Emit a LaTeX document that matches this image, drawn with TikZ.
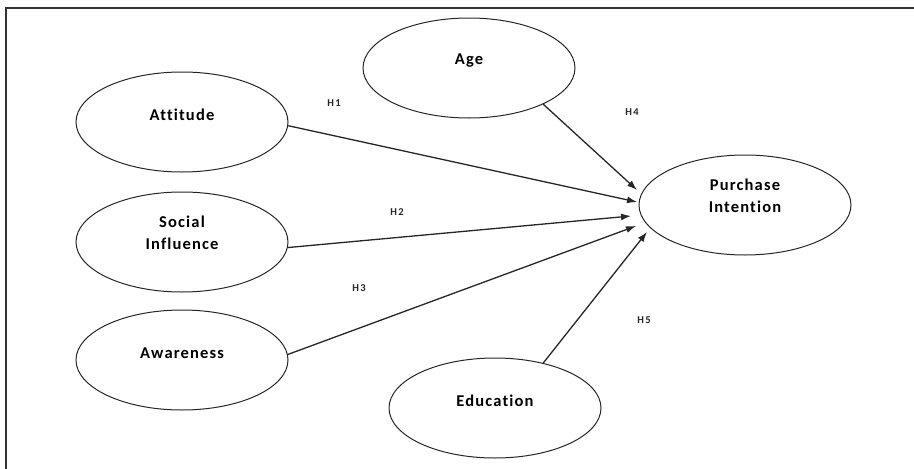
\documentclass[tikz,border=0pt]{standalone}
\usepackage{fontspec}
\setmainfont{Carlito}[Ligatures=NoCommon]
\usetikzlibrary{arrows.meta,calc,shapes.geometric}
\begin{document}
\begin{tikzpicture}[x=1pt,y=-1pt,
  var/.style={draw=black!85,line width=1pt,ellipse,minimum width=212pt,minimum height=100pt,inner sep=0pt},
  vlab/.style={font=\fontsize{16.5}{22}\selectfont\bfseries\addfontfeature{LetterSpace=7},align=center,text=black},
  hlab/.style={font=\fontsize{10.5}{12}\selectfont\bfseries\addfontfeature{LetterSpace=12},text=black!85},
  path/.style={draw=black!85,line width=1.3pt,-{Latex[length=10pt,width=7pt]}},
  frame/.style={draw=black!80,line width=1.8pt}]
\useasboundingbox (0,0) rectangle (914,469);
\draw[frame] (6,469) -- (6,8) -- (914,8);

\node[var] (att) at (182,122) {};
\node[var] (age) at (469,68) {};
\node[var] (soc) at (182,242) {};
\node[var] (awa) at (182,360) {};
\node[var] (edu) at (495,408) {};
\node[var] (pi)  at (745,205) {};

\node[vlab] (attt) at ($(att.center)+(0,-7)$) {Attitude};
\node[vlab] (aget) at ($(age.center)+(0,-7)$) {Age};
\node[vlab] (soct) at ($(soc.center)+(0,-9)$) {Social\\Influence};
\node[vlab] (awat) at ($(awa.center)+(0,-7)$) {Awareness};
\node[vlab] (edut) at ($(edu.center)+(0,-7)$) {Education};
\node[vlab] (pit)  at ($(pi.center)+(0,-9)$) {Purchase\\Intention};

\coordinate (t1) at ($(pi.center)+(-108,-3)$);
\coordinate (t4) at ($(pi.center)+(-108,-15)$);
\coordinate (t2) at ($(pi.center)+(-114,11)$);
\coordinate (t3) at ($(pi.center)+(-109,21)$);
\coordinate (t5) at ($(pi.center)+(-98,27)$);

\draw[path] (att.-2) -- (t1);
\draw[path] (age.-26) -- (t4);
\draw[path] (soc.-3) -- (t2);
\draw[path] (awa.3) -- (t3);
\draw[path] (edu.43) -- (t5);

\node[hlab] (h1) at (334,103) {H1};
\node[hlab] (h2) at (397,212) {H2};
\node[hlab] (h3) at (359,288) {H3};
\node[hlab] (h4) at (632,112) {H4};
\node[hlab] (h5) at (644,320) {H5};
\end{tikzpicture}
\end{document}
